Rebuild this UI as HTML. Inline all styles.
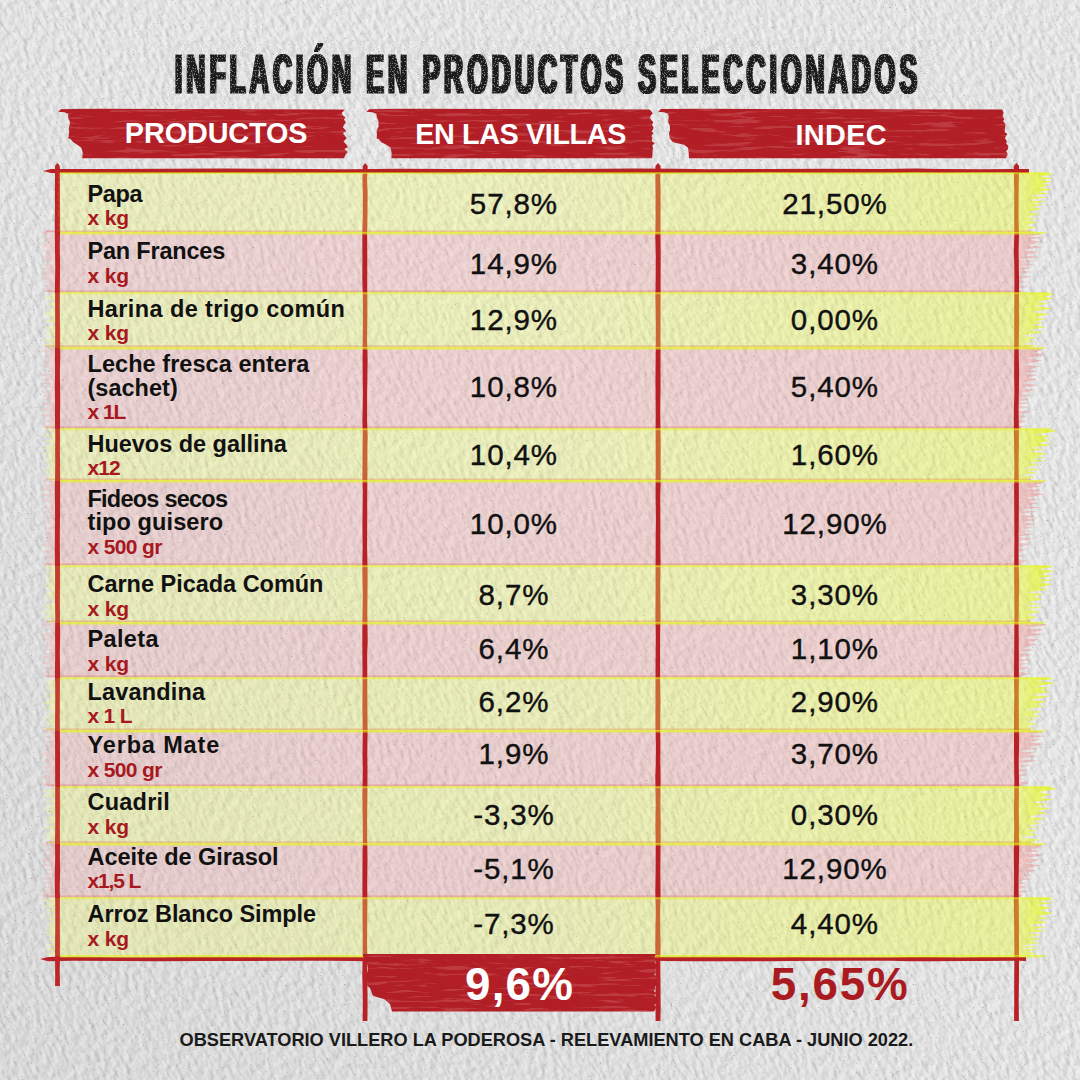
<!DOCTYPE html>
<html><head><meta charset="utf-8">
<style>
html,body{margin:0;padding:0;}
body{width:1080px;height:1080px;position:relative;overflow:hidden;background:#e4e4e2;font-family:"Liberation Sans", sans-serif;}
.t{position:absolute;white-space:nowrap;line-height:1;}
svg{position:absolute;left:0;top:0;}
</style></head><body>

<svg width="1080" height="1080" viewBox="0 0 1080 1080">
<defs>
<filter id="st" x="-50%" y="-50%" width="200%" height="200%">
 <feTurbulence type="fractalNoise" baseFrequency="0.22 0.11" numOctaves="3" seed="2" result="noise"/>
 <feDiffuseLighting in="noise" lighting-color="#ffffff" surfaceScale="1.15" diffuseConstant="1" result="lit">
   <feDistantLight azimuth="235" elevation="55"/>
 </feDiffuseLighting>
 <feColorMatrix type="matrix" values="0.935 0 0 0 0.01  0 0.935 0 0 0.01  0 0 0.935 0 0.01  0 0 0 1 0"/>
</filter>
<filter id="specks" x="0" y="0" width="100%" height="100%">
 <feTurbulence type="fractalNoise" baseFrequency="0.9" numOctaves="1" seed="9" result="n"/>
 <feColorMatrix type="matrix" values="0 0 0 0 0.25  0 0 0 0 0.25  0 0 0 0 0.25  0 0 0 -40 7.5"/>
</filter>
<filter id="specks2" x="0" y="0" width="100%" height="100%">
 <feTurbulence type="fractalNoise" baseFrequency="0.45" numOctaves="2" seed="17" result="n"/>
 <feColorMatrix type="matrix" values="0 0 0 0 0.35  0 0 0 0 0.35  0 0 0 0 0.35  0 0 0 -30 7.6"/>
</filter>
<clipPath id="pg"><rect width="1080" height="1080"/></clipPath>
</defs>
<g clip-path="url(#pg)"><rect x="-400" y="-400" width="1880" height="1880" fill="#fff" filter="url(#st)" transform="rotate(-35 540 540)"/></g>
<rect width="1080" height="1080" fill="#fff" filter="url(#specks)" opacity="0.7"/>
<rect width="1080" height="1080" fill="#fff" filter="url(#specks2)" opacity="0.5"/>
<defs><linearGradient id="vig" x1="0" y1="1" x2="1" y2="0"><stop offset="0" stop-color="#000" stop-opacity="0.05"/><stop offset="0.6" stop-color="#000" stop-opacity="0"/></linearGradient></defs>
<rect width="1080" height="1080" fill="url(#vig)"/>
</svg>
<svg width="1080" height="1080" viewBox="0 0 1080 1080"><defs>
<linearGradient id="gy" gradientUnits="userSpaceOnUse" x1="40" y1="0" x2="1060" y2="0">
<stop offset="0" stop-color="rgb(245,255,90)" stop-opacity="0.28"/>
<stop offset="0.5" stop-color="rgb(245,255,90)" stop-opacity="0.30"/>
<stop offset="0.955" stop-color="rgb(235,255,40)" stop-opacity="0.38"/>
<stop offset="1" stop-color="rgb(230,245,10)" stop-opacity="0.85"/>
</linearGradient>
<linearGradient id="gp" gradientUnits="userSpaceOnUse" x1="40" y1="0" x2="1060" y2="0">
<stop offset="0" stop-color="rgb(250,160,160)" stop-opacity="0.27"/>
<stop offset="0.5" stop-color="rgb(250,160,160)" stop-opacity="0.30"/>
<stop offset="0.95" stop-color="rgb(245,150,150)" stop-opacity="0.32"/>
<stop offset="1" stop-color="rgb(235,120,120)" stop-opacity="0.6"/>
</linearGradient>
</defs><path d="M43.0,233.0 L1038.0,233.0 L1042.4,234.2 L1027.2,236.4 L1042.4,237.5 L1029.8,239.7 L1040.2,241.7 L1027.4,245.4 L1043.2,247.0 L1022.1,250.0 L1038.0,252.0 L1024.3,255.6 L1039.8,257.0 L1017.5,259.7 L1034.2,260.9 L1023.6,263.1 L1034.9,264.4 L1018.8,266.8 L1030.8,268.1 L1019.3,270.6 L1032.9,272.0 L1012.6,274.7 L1031.2,276.5 L1014.2,279.8 L1026.7,281.6 L1009.7,284.8 L1030.0,286.7 L1009.0,290.2 L1025.3,291.6 L1017.4,293.0 L49.0,293.0 L42.8,290.2 L47.5,287.5 L42.4,285.5 L49.7,283.6 L43.0,282.0 L48.2,280.4 L41.5,278.7 L47.2,277.0 L40.5,273.8 L48.2,270.5 L41.6,268.5 L49.9,266.5 L39.6,264.8 L54.9,263.0 L41.1,260.6 L47.7,258.1 L41.6,256.4 L49.1,254.7 L42.4,251.6 L47.2,248.4 L40.9,245.0 L48.2,241.6 L42.9,239.0 L51.2,236.4 L39.5,233.0 L52.6,229.5 L47.0,233.0Z" fill="url(#gp)"/><rect x="46" y="230.4" width="985" height="2" fill="rgba(220,100,95,0.42)"/><rect x="46" y="290.4" width="975" height="1.5" fill="rgba(220,100,95,0.35)"/><path d="M43.0,348.0 L1038.0,348.0 L1042.8,349.6 L1034.7,352.6 L1044.8,354.7 L1028.1,358.6 L1042.0,360.6 L1023.2,364.4 L1039.2,366.3 L1028.1,369.8 L1038.1,371.2 L1023.8,373.7 L1038.2,375.0 L1027.4,377.5 L1036.8,379.5 L1022.7,383.2 L1038.7,384.9 L1021.9,388.0 L1035.1,390.0 L1019.4,393.7 L1030.8,395.3 L1019.2,398.3 L1029.6,399.5 L1014.7,401.8 L1031.5,403.1 L1014.6,405.4 L1029.8,407.0 L1015.5,410.0 L1031.4,411.7 L1018.5,414.7 L1027.0,416.3 L1015.6,419.4 L1027.4,421.2 L1011.4,424.7 L1028.5,426.5 L1015.3,429.0 L49.0,429.0 L41.0,426.3 L51.1,423.5 L41.2,420.7 L51.3,417.8 L39.2,415.3 L52.6,412.9 L39.2,409.6 L49.1,406.4 L39.2,403.7 L53.7,401.1 L42.5,399.3 L50.5,397.6 L42.0,395.9 L47.6,394.3 L39.9,391.4 L54.2,388.6 L40.1,386.8 L52.3,385.0 L39.5,383.2 L54.7,381.4 L39.2,379.5 L50.2,377.5 L39.0,375.1 L53.7,372.6 L41.3,370.8 L51.1,368.9 L42.2,366.8 L49.5,364.6 L42.9,361.6 L51.4,358.7 L42.9,356.3 L49.7,353.9 L41.0,351.2 L47.5,348.4 L47.0,348.0Z" fill="url(#gp)"/><rect x="46" y="345.4" width="985" height="2" fill="rgba(220,100,95,0.42)"/><rect x="46" y="426.4" width="975" height="1.5" fill="rgba(220,100,95,0.35)"/><path d="M43.0,481.0 L1038.0,481.0 L1044.1,482.5 L1034.5,485.2 L1041.4,486.4 L1026.8,488.6 L1041.2,489.9 L1032.5,492.4 L1044.5,494.3 L1025.3,497.9 L1039.5,499.2 L1028.2,501.7 L1038.1,503.3 L1025.6,506.1 L1041.9,507.4 L1019.5,509.9 L1036.7,511.5 L1018.4,514.5 L1036.2,515.9 L1027.2,518.5 L1036.0,519.9 L1021.2,522.6 L1035.2,523.9 L1025.3,526.2 L1031.9,527.6 L1020.5,530.0 L1030.6,531.1 L1020.7,533.1 L1033.2,534.4 L1017.6,536.8 L1032.8,538.7 L1014.5,542.1 L1030.0,544.1 L1017.0,547.7 L1027.2,549.8 L1011.7,553.7 L1025.2,555.4 L1009.4,558.6 L1027.5,560.6 L1013.6,566.0 L49.0,566.0 L42.4,562.9 L51.2,559.8 L39.7,557.2 L53.4,554.7 L40.7,551.6 L54.1,548.4 L40.2,545.6 L48.8,542.7 L42.5,541.1 L49.9,539.6 L39.7,537.9 L51.5,536.2 L40.5,533.4 L52.4,530.6 L43.0,528.2 L53.4,525.7 L41.0,522.7 L51.3,519.7 L42.7,516.9 L52.9,514.1 L42.7,512.0 L49.1,510.0 L42.2,507.1 L52.9,504.1 L41.0,500.7 L50.1,497.2 L40.3,494.8 L53.1,492.3 L40.4,489.6 L47.6,486.8 L42.0,485.0 L52.9,483.3 L40.7,481.1 L47.1,479.0 L47.0,481.0Z" fill="url(#gp)"/><rect x="46" y="478.4" width="985" height="2" fill="rgba(220,100,95,0.42)"/><rect x="46" y="563.4" width="975" height="1.5" fill="rgba(220,100,95,0.35)"/><path d="M43.0,623.0 L1038.0,623.0 L1047.5,624.7 L1024.8,627.9 L1044.5,629.5 L1032.0,632.5 L1041.2,634.4 L1023.1,637.7 L1038.4,639.5 L1028.4,642.7 L1035.6,644.7 L1022.0,648.5 L1034.5,649.9 L1017.9,652.5 L1032.8,654.6 L1016.6,658.4 L1032.5,659.8 L1017.8,662.3 L1028.7,663.5 L1018.4,665.8 L1029.4,667.8 L1016.2,671.5 L1030.3,673.5 L1015.3,678.0 L49.0,678.0 L42.2,676.2 L47.7,674.4 L42.6,672.3 L48.9,670.1 L40.7,668.1 L54.1,666.0 L41.3,663.0 L50.3,660.0 L41.5,657.5 L49.7,654.9 L41.9,653.3 L54.7,651.7 L41.0,649.9 L52.0,648.2 L42.1,645.0 L49.2,641.7 L41.4,639.7 L50.6,637.7 L39.6,634.3 L54.0,630.9 L42.9,629.4 L52.7,627.8 L41.1,624.6 L51.7,621.3 L47.0,623.0Z" fill="url(#gp)"/><rect x="46" y="620.4" width="985" height="2" fill="rgba(220,100,95,0.42)"/><rect x="46" y="675.4" width="975" height="1.5" fill="rgba(220,100,95,0.35)"/><path d="M43.0,731.0 L1038.0,731.0 L1043.3,732.3 L1027.1,734.7 L1046.4,736.1 L1028.3,738.6 L1040.6,739.8 L1027.9,742.1 L1043.7,743.9 L1028.8,747.1 L1037.5,748.6 L1019.0,751.3 L1035.1,752.5 L1026.9,754.7 L1038.9,756.2 L1017.2,758.9 L1038.0,760.7 L1014.9,764.1 L1031.3,765.5 L1013.4,768.1 L1028.9,769.9 L1014.2,773.3 L1029.1,774.8 L1016.1,777.5 L1025.4,778.7 L1015.3,781.0 L1029.9,782.4 L1017.3,787.0 L49.0,787.0 L42.2,783.6 L49.9,780.1 L39.7,777.0 L50.5,773.9 L41.1,772.3 L50.0,770.7 L42.2,767.3 L49.9,764.0 L42.9,760.7 L50.3,757.4 L39.9,754.3 L47.3,751.1 L42.7,749.6 L54.4,748.0 L40.0,746.0 L54.2,744.0 L41.9,741.8 L54.7,739.6 L42.0,736.9 L52.7,734.2 L41.9,732.0 L47.0,729.9 L47.0,731.0Z" fill="url(#gp)"/><rect x="46" y="728.4" width="985" height="2" fill="rgba(220,100,95,0.42)"/><rect x="46" y="784.4" width="975" height="1.5" fill="rgba(220,100,95,0.35)"/><path d="M43.0,844.0 L1038.0,844.0 L1042.2,846.0 L1030.9,849.7 L1041.0,850.9 L1022.9,853.1 L1044.2,854.8 L1027.1,857.9 L1039.6,859.8 L1026.2,863.4 L1040.5,865.3 L1025.8,868.8 L1036.5,870.5 L1022.9,873.6 L1031.9,875.0 L1021.5,877.7 L1033.1,879.0 L1015.6,881.4 L1028.2,882.7 L1017.5,885.1 L1027.9,886.8 L1015.8,890.1 L1029.7,891.4 L1012.1,893.7 L1024.2,894.8 L1015.6,898.0 L49.0,898.0 L40.4,895.4 L47.7,892.8 L40.2,891.0 L50.3,889.1 L41.8,887.1 L54.6,885.0 L40.7,882.9 L49.9,880.8 L39.5,878.4 L55.0,876.1 L42.2,873.9 L52.8,871.6 L43.0,869.7 L54.2,867.8 L39.7,865.5 L50.2,863.1 L41.2,859.9 L48.3,856.6 L40.8,855.1 L52.1,853.5 L42.6,850.2 L52.0,846.9 L41.0,844.7 L48.2,842.4 L47.0,844.0Z" fill="url(#gp)"/><rect x="46" y="841.4" width="985" height="2" fill="rgba(220,100,95,0.42)"/><rect x="46" y="895.4" width="975" height="1.5" fill="rgba(220,100,95,0.35)"/></svg>
<svg width="1080" height="1080" viewBox="0 0 1080 1080">
<path d="M43.0,171.0 L51.0,169.1 L110.3,168.9 L166.9,168.7 L224.1,168.6 L274.4,168.7 L305.4,169.1 L345.5,169.2 L376.0,168.9 L397.5,168.7 L454.9,169.0 L481.7,169.1 L522.9,169.0 L577.8,168.9 L633.1,168.6 L678.3,168.8 L708.9,169.2 L743.3,169.1 L770.4,169.1 L823.2,168.7 L882.5,169.0 L915.0,168.6 L941.0,169.0 L981.5,169.2 L1010.6,169.0 L1029.0,168.9 L1029.0,173.1 L1010.6,172.8 L981.5,172.8 L941.0,173.1 L915.0,172.8 L882.5,173.2 L823.2,173.2 L770.4,172.8 L743.3,173.1 L708.9,173.2 L678.3,173.3 L633.1,173.4 L577.8,173.2 L522.9,173.0 L481.7,172.8 L454.9,173.4 L397.5,172.9 L376.0,173.0 L345.5,172.9 L305.4,172.9 L274.4,173.4 L224.1,173.0 L166.9,173.3 L110.3,173.4 L51.0,172.9Z" fill="#b82227"/>
<path d="M57.5,163.0 L55.0,166.0 L54.9,184.4 L54.9,207.0 L54.8,227.6 L54.9,244.0 L55.4,267.5 L54.9,286.7 L55.1,310.3 L55.1,333.9 L54.9,359.1 L55.1,371.9 L54.8,388.2 L55.1,400.4 L54.9,415.0 L55.2,436.1 L55.0,451.2 L55.4,464.1 L54.8,489.0 L55.1,514.4 L54.9,534.6 L54.8,550.7 L55.2,576.2 L54.9,601.0 L55.3,620.9 L55.2,637.7 L55.4,653.6 L54.9,670.3 L55.3,699.3 L55.0,727.1 L55.2,755.4 L55.4,779.4 L55.2,806.5 L55.3,826.4 L54.9,843.9 L55.4,857.3 L54.8,869.8 L54.8,888.0 L55.2,900.8 L55.3,925.3 L55.0,948.0 L55.4,974.7 L55.1,986.0 L59.9,986.0 L59.6,974.7 L60.1,948.0 L59.6,925.3 L60.0,900.8 L59.6,888.0 L60.2,869.8 L59.7,857.3 L60.0,843.9 L59.9,826.4 L60.2,806.5 L59.9,779.4 L60.0,755.4 L59.7,727.1 L59.8,699.3 L60.1,670.3 L59.6,653.6 L60.2,637.7 L59.9,620.9 L59.9,601.0 L60.1,576.2 L59.8,550.7 L59.6,534.6 L60.1,514.4 L60.1,489.0 L60.1,464.1 L59.8,451.2 L60.1,436.1 L60.0,415.0 L60.2,400.4 L60.1,388.2 L59.8,371.9 L60.2,359.1 L60.2,333.9 L59.8,310.3 L59.6,286.7 L60.1,267.5 L59.6,244.0 L60.2,227.6 L60.0,207.0 L60.0,184.4 L59.6,166.0Z" fill="#b82227"/>
<path d="M365.0,163.0 L362.9,166.0 L362.4,179.9 L362.8,192.5 L362.8,216.0 L362.3,233.1 L362.4,258.8 L362.3,278.4 L362.8,295.5 L362.9,313.3 L362.7,340.6 L362.6,360.0 L362.7,378.3 L362.9,394.2 L362.4,420.9 L362.8,436.5 L362.6,448.6 L362.4,475.0 L362.8,493.2 L362.4,522.2 L362.6,546.8 L362.3,570.3 L362.8,594.8 L362.5,613.2 L362.3,641.2 L362.4,653.7 L362.6,681.9 L362.4,709.8 L362.8,731.4 L362.5,755.0 L362.8,769.8 L362.4,795.2 L362.7,821.1 L362.9,841.4 L362.5,856.9 L362.4,884.0 L362.5,900.5 L362.5,915.4 L362.8,945.0 L362.3,974.3 L362.8,1004.0 L362.6,1021.0 L367.4,1021.0 L367.6,1004.0 L367.3,974.3 L367.1,945.0 L367.2,915.4 L367.4,900.5 L367.2,884.0 L367.5,856.9 L367.2,841.4 L367.1,821.1 L367.4,795.2 L367.5,769.8 L367.3,755.0 L367.6,731.4 L367.4,709.8 L367.3,681.9 L367.2,653.7 L367.7,641.2 L367.3,613.2 L367.5,594.8 L367.6,570.3 L367.1,546.8 L367.2,522.2 L367.2,493.2 L367.4,475.0 L367.4,448.6 L367.7,436.5 L367.1,420.9 L367.1,394.2 L367.4,378.3 L367.6,360.0 L367.1,340.6 L367.4,313.3 L367.3,295.5 L367.2,278.4 L367.3,258.8 L367.1,233.1 L367.5,216.0 L367.6,192.5 L367.1,179.9 L367.7,166.0Z" fill="#b82227"/>
<path d="M658.0,163.0 L655.4,166.0 L655.4,179.9 L655.5,192.5 L655.6,217.0 L655.3,237.4 L655.8,256.6 L655.7,276.4 L655.4,296.0 L655.8,323.8 L655.7,351.1 L655.5,371.3 L655.5,385.1 L655.7,409.9 L655.6,429.5 L655.7,448.9 L655.7,464.2 L655.6,483.2 L655.6,495.9 L655.9,522.0 L655.7,535.8 L655.6,560.7 L655.6,587.6 L655.4,616.7 L655.8,635.7 L655.5,665.5 L655.5,682.4 L655.5,701.9 L655.4,720.3 L655.9,745.6 L655.8,761.6 L655.3,777.4 L655.7,803.9 L655.4,826.1 L655.7,844.4 L655.6,871.1 L655.3,893.0 L655.8,911.4 L655.4,930.1 L655.3,945.5 L655.4,962.5 L655.5,983.2 L655.5,1007.0 L655.6,1021.0 L660.4,1021.0 L660.7,1007.0 L660.5,983.2 L660.3,962.5 L660.6,945.5 L660.3,930.1 L660.2,911.4 L660.6,893.0 L660.3,871.1 L660.6,844.4 L660.7,826.1 L660.4,803.9 L660.6,777.4 L660.3,761.6 L660.4,745.6 L660.2,720.3 L660.5,701.9 L660.1,682.4 L660.1,665.5 L660.1,635.7 L660.5,616.7 L660.3,587.6 L660.5,560.7 L660.4,535.8 L660.4,522.0 L660.2,495.9 L660.7,483.2 L660.6,464.2 L660.7,448.9 L660.5,429.5 L660.2,409.9 L660.6,385.1 L660.5,371.3 L660.5,351.1 L660.5,323.8 L660.6,296.0 L660.6,276.4 L660.7,256.6 L660.5,237.4 L660.5,217.0 L660.6,192.5 L660.3,179.9 L660.5,166.0Z" fill="#b82227"/>
<path d="M1016.5,163.0 L1013.8,166.0 L1014.3,194.3 L1014.2,221.3 L1014.4,233.5 L1013.8,250.0 L1014.3,266.2 L1014.4,280.9 L1014.4,296.0 L1014.2,322.0 L1014.3,348.2 L1014.1,372.7 L1014.4,392.6 L1013.9,409.3 L1013.8,430.2 L1014.1,444.8 L1014.4,466.5 L1014.1,493.6 L1014.3,517.6 L1014.4,537.2 L1014.2,560.6 L1014.2,583.6 L1014.4,601.5 L1014.4,622.3 L1014.2,647.2 L1014.0,674.7 L1014.3,696.2 L1014.0,716.0 L1014.0,742.9 L1014.1,762.2 L1014.4,783.3 L1014.0,809.5 L1014.2,826.9 L1013.8,853.0 L1014.1,881.0 L1013.8,898.4 L1014.2,927.0 L1014.4,953.2 L1014.2,976.3 L1014.2,999.0 L1014.1,1021.0 L1018.9,1021.0 L1018.7,999.0 L1019.0,976.3 L1019.0,953.2 L1019.0,927.0 L1018.7,898.4 L1018.6,881.0 L1019.1,853.0 L1019.0,826.9 L1018.8,809.5 L1019.0,783.3 L1018.7,762.2 L1019.1,742.9 L1018.9,716.0 L1018.7,696.2 L1018.9,674.7 L1018.8,647.2 L1018.6,622.3 L1018.9,601.5 L1019.2,583.6 L1018.6,560.6 L1018.6,537.2 L1018.8,517.6 L1018.9,493.6 L1018.6,466.5 L1018.9,444.8 L1018.9,430.2 L1018.6,409.3 L1018.9,392.6 L1019.1,372.7 L1018.7,348.2 L1019.2,322.0 L1019.0,296.0 L1019.1,280.9 L1018.8,266.2 L1018.6,250.0 L1019.0,233.5 L1018.6,221.3 L1018.6,194.3 L1019.1,166.0Z" fill="#b82227"/>
<path d="M40.0,959.0 L48.0,957.0 L72.1,956.8 L123.0,957.3 L157.8,957.2 L200.3,956.8 L237.1,956.9 L282.8,957.3 L325.5,956.7 L377.9,957.1 L415.8,956.7 L459.5,957.3 L498.5,956.9 L544.3,956.8 L564.9,956.7 L589.8,957.3 L644.5,956.7 L693.3,956.8 L720.8,956.7 L769.3,957.2 L792.7,957.1 L831.1,957.3 L889.7,957.2 L910.3,957.1 L933.5,956.9 L960.1,957.3 L982.5,956.9 L1020.1,957.1 L1026.0,957.0 L1026.0,961.0 L1020.1,960.8 L982.5,961.1 L960.1,961.0 L933.5,961.2 L910.3,961.2 L889.7,960.7 L831.1,960.8 L792.7,961.1 L769.3,961.2 L720.8,961.2 L693.3,961.2 L644.5,960.7 L589.8,960.7 L564.9,961.1 L544.3,960.8 L498.5,960.7 L459.5,961.3 L415.8,960.9 L377.9,961.3 L325.5,960.7 L282.8,960.7 L237.1,961.0 L200.3,960.9 L157.8,961.2 L123.0,961.1 L72.1,960.7 L48.0,961.2Z" fill="#b82227"/>
</svg>
<svg width="1080" height="1080" viewBox="0 0 1080 1080"><path d="M58.0,173.0 L1048.0,173.0 L1052.9,174.4 L1038.2,177.0 L1053.9,178.1 L1039.9,180.2 L1052.6,181.3 L1042.2,183.4 L1049.0,184.9 L1040.2,187.7 L1052.1,189.2 L1038.4,191.9 L1049.5,193.2 L1029.0,195.6 L1046.8,197.3 L1027.1,200.3 L1048.0,201.4 L1032.9,203.5 L1042.5,204.7 L1031.6,206.9 L1041.8,208.8 L1027.1,212.4 L1041.1,214.1 L1025.8,217.3 L1037.6,218.4 L1028.1,220.5 L1038.7,222.2 L1025.4,225.5 L1037.2,227.2 L1023.9,230.3 L1037.1,232.1 L1026.5,233.0 L64.0,233.0 L57.5,230.4 L59.8,227.7 L57.7,224.7 L60.0,221.8 L57.6,220.0 L59.5,218.3 L57.5,216.5 L58.1,214.7 L57.2,211.9 L59.1,209.0 L57.7,205.8 L59.4,202.5 L57.4,199.8 L58.9,197.2 L57.1,194.0 L58.9,190.8 L57.9,188.0 L59.4,185.1 L57.0,182.3 L59.6,179.5 L57.6,177.5 L59.3,175.4 L57.5,173.9 L58.3,172.3 L62.0,173.0Z" fill="url(#gy)"/><path d="M60,232 L1048,232 L1040,234.5 L60,234.5Z" fill="rgba(230,248,20,0.6)"/><path d="M60,172 L1052,172 L1045,174.2 L60,174.2Z" fill="rgba(230,248,20,0.5)"/><path d="M46.0,293.0 L1048.0,293.0 L1054.2,294.3 L1043.0,296.8 L1053.8,298.6 L1034.9,302.1 L1050.0,303.5 L1033.1,306.1 L1052.4,308.2 L1031.0,312.0 L1049.5,314.0 L1034.8,317.5 L1045.2,319.1 L1035.1,322.1 L1043.1,323.1 L1031.7,325.1 L1046.1,326.9 L1028.0,330.2 L1044.4,332.2 L1020.8,336.0 L1037.7,337.5 L1026.6,340.1 L1036.1,341.4 L1021.3,343.7 L1038.6,345.7 L1025.1,348.0 L52.0,348.0 L42.0,345.2 L50.7,342.4 L41.5,339.6 L56.3,336.7 L43.6,333.7 L51.4,330.7 L44.3,327.7 L56.4,324.6 L44.0,321.1 L53.2,317.7 L42.4,314.3 L51.4,310.9 L45.2,309.2 L57.2,307.4 L45.3,304.3 L56.6,301.2 L42.7,297.7 L52.8,294.3 L50.0,293.0Z" fill="url(#gy)"/><path d="M60,347 L1048,347 L1040,349.5 L60,349.5Z" fill="rgba(230,248,20,0.6)"/><path d="M60,292 L1052,292 L1045,294.2 L60,294.2Z" fill="rgba(230,248,20,0.5)"/><path d="M46.0,429.0 L1048.0,429.0 L1056.7,431.1 L1034.0,435.0 L1051.3,436.1 L1042.0,438.3 L1050.1,440.1 L1039.1,443.6 L1051.9,445.1 L1030.6,447.9 L1045.6,449.2 L1028.1,451.6 L1047.5,453.3 L1034.6,456.4 L1045.6,457.5 L1030.0,459.5 L1045.9,460.7 L1026.7,462.8 L1039.5,464.6 L1022.4,468.2 L1042.1,469.3 L1025.2,471.4 L1039.0,472.8 L1018.9,475.4 L1034.9,476.7 L1024.8,481.0 L52.0,481.0 L45.5,479.0 L51.3,477.0 L45.0,475.4 L52.5,473.8 L42.2,471.7 L52.3,469.6 L45.1,467.1 L52.8,464.6 L44.7,463.1 L50.1,461.6 L43.2,458.6 L51.5,455.6 L41.3,453.2 L50.9,450.7 L43.8,447.6 L54.0,444.4 L44.0,441.3 L54.1,438.1 L41.1,435.2 L52.7,432.4 L42.5,429.2 L55.1,426.0 L50.0,429.0Z" fill="url(#gy)"/><path d="M60,480 L1048,480 L1040,482.5 L60,482.5Z" fill="rgba(230,248,20,0.6)"/><path d="M60,428 L1052,428 L1045,430.2 L60,430.2Z" fill="rgba(230,248,20,0.5)"/><path d="M46.0,566.0 L1048.0,566.0 L1053.6,567.1 L1038.2,569.2 L1054.9,571.0 L1040.2,574.3 L1051.9,575.9 L1036.8,578.8 L1052.9,580.0 L1038.3,582.2 L1051.9,584.2 L1038.1,588.1 L1049.2,589.6 L1027.0,592.5 L1044.3,594.0 L1033.1,596.8 L1042.4,598.9 L1027.3,602.7 L1042.3,603.9 L1022.4,606.1 L1042.9,607.3 L1025.7,609.5 L1041.0,611.5 L1026.4,615.1 L1037.7,617.1 L1026.5,620.8 L1035.7,621.9 L1025.3,623.0 L52.0,623.0 L45.3,620.9 L52.8,618.8 L41.8,616.7 L50.0,614.5 L41.8,611.5 L51.0,608.5 L42.4,605.2 L57.2,601.8 L44.1,599.7 L53.1,597.7 L43.1,594.2 L52.9,590.7 L44.6,588.3 L50.4,586.0 L41.8,584.2 L52.3,582.5 L44.8,579.2 L52.1,575.8 L45.1,573.3 L53.0,570.8 L41.6,567.3 L56.5,563.9 L50.0,566.0Z" fill="url(#gy)"/><path d="M60,622 L1048,622 L1040,624.5 L60,624.5Z" fill="rgba(230,248,20,0.6)"/><path d="M60,565 L1052,565 L1045,567.2 L60,567.2Z" fill="rgba(230,248,20,0.5)"/><path d="M46.0,678.0 L1048.0,678.0 L1054.3,679.1 L1035.6,681.0 L1056.0,682.9 L1033.1,686.5 L1049.5,687.8 L1039.8,690.2 L1051.5,691.8 L1030.2,694.8 L1049.5,696.6 L1030.1,700.0 L1047.0,701.5 L1035.7,704.3 L1043.5,706.2 L1024.8,709.7 L1041.9,711.4 L1030.9,714.6 L1042.0,715.9 L1023.8,718.4 L1037.2,719.5 L1024.3,721.7 L1037.8,723.4 L1025.5,726.5 L1033.8,728.1 L1026.2,731.0 L52.0,731.0 L41.2,728.6 L55.2,726.2 L43.6,722.9 L51.9,719.6 L41.2,717.6 L55.6,715.6 L45.9,713.5 L54.0,711.4 L43.9,708.6 L52.1,705.7 L41.4,702.9 L51.8,700.0 L44.3,698.5 L53.4,696.9 L45.0,694.0 L56.4,691.2 L43.5,688.2 L51.6,685.2 L44.4,681.8 L56.6,678.3 L50.0,678.0Z" fill="url(#gy)"/><path d="M60,730 L1048,730 L1040,732.5 L60,732.5Z" fill="rgba(230,248,20,0.6)"/><path d="M60,677 L1052,677 L1045,679.2 L60,679.2Z" fill="rgba(230,248,20,0.5)"/><path d="M46.0,787.0 L1048.0,787.0 L1057.5,788.8 L1037.8,792.3 L1050.3,794.3 L1039.8,798.1 L1053.8,799.6 L1031.0,802.5 L1048.1,804.0 L1034.8,806.7 L1050.7,808.2 L1035.7,811.2 L1048.0,813.1 L1027.4,816.6 L1045.3,818.4 L1030.5,821.9 L1041.9,823.3 L1024.5,825.8 L1039.6,827.0 L1023.7,829.1 L1037.6,830.4 L1029.6,832.8 L1037.9,834.5 L1018.5,837.5 L1040.2,839.5 L1026.4,844.0 L52.0,844.0 L45.5,842.3 L54.0,840.7 L43.8,837.7 L51.9,834.8 L42.9,832.5 L55.4,830.2 L41.8,827.2 L55.3,824.2 L41.8,822.4 L52.4,820.7 L44.1,818.0 L55.9,815.4 L44.8,813.5 L52.0,811.6 L41.6,809.8 L54.6,808.0 L44.0,805.9 L57.9,803.7 L44.8,801.2 L56.5,798.7 L41.0,795.9 L50.8,793.1 L41.9,790.6 L56.7,788.2 L50.0,787.0Z" fill="url(#gy)"/><path d="M60,843 L1048,843 L1040,845.5 L60,845.5Z" fill="rgba(230,248,20,0.6)"/><path d="M60,786 L1052,786 L1045,788.2 L60,788.2Z" fill="rgba(230,248,20,0.5)"/><path d="M46.0,898.0 L1048.0,898.0 L1055.1,899.3 L1035.4,901.8 L1053.6,903.0 L1035.5,905.2 L1050.7,907.2 L1040.2,911.1 L1053.3,913.1 L1034.7,916.9 L1051.0,918.0 L1034.5,920.1 L1048.1,922.1 L1028.2,925.8 L1047.1,927.0 L1033.0,929.3 L1046.3,930.7 L1025.5,933.5 L1041.1,934.7 L1028.5,937.0 L1040.8,938.6 L1029.7,941.6 L1041.3,942.9 L1020.7,945.3 L1039.1,946.4 L1021.0,948.4 L1039.6,949.5 L1026.4,951.6 L1036.8,953.2 L1024.2,956.0 L52.0,956.0 L43.9,953.9 L54.7,951.8 L42.7,949.4 L53.6,947.1 L45.9,944.7 L55.0,942.3 L44.8,939.8 L56.1,937.4 L43.7,934.3 L51.4,931.2 L45.5,928.8 L51.0,926.3 L45.5,924.0 L53.5,921.6 L45.8,919.1 L55.1,916.6 L42.3,914.9 L56.2,913.3 L45.7,910.7 L54.0,908.2 L41.2,906.0 L51.1,903.7 L41.0,900.5 L55.9,897.3 L50.0,898.0Z" fill="url(#gy)"/><path d="M60,955 L1048,955 L1040,957.5 L60,957.5Z" fill="rgba(230,248,20,0.6)"/><path d="M60,897 L1052,897 L1045,899.2 L60,899.2Z" fill="rgba(230,248,20,0.5)"/><defs><filter id="rowstreak" x="0" y="0" width="100%" height="100%">
<feTurbulence type="fractalNoise" baseFrequency="0.006 0.22" numOctaves="3" seed="31"/>
<feColorMatrix type="matrix" values="0 0 0 0 1  0 0 0 0 1  0 0 0 0 1  0 0 0 -7 3.6"/>
</filter></defs>

<path d="M57.5,163.0 L55.2,166.0 L55.2,189.3 L55.6,215.5 L55.2,237.7 L55.4,267.2 L55.4,285.2 L55.4,312.2 L55.6,331.9 L55.4,356.2 L55.1,382.7 L55.2,399.5 L55.6,426.2 L55.5,453.2 L55.1,475.5 L55.4,502.0 L55.0,520.2 L55.1,546.6 L55.1,575.3 L55.3,599.5 L55.5,616.1 L55.0,636.4 L55.1,662.3 L55.6,690.4 L55.4,711.0 L55.1,726.5 L55.3,745.0 L55.1,766.3 L55.2,796.3 L55.5,819.7 L55.2,842.4 L55.0,854.8 L55.3,882.4 L55.5,899.1 L55.5,928.1 L55.1,957.5 L55.1,973.1 L55.3,986.0 L55.3,986.0 L59.7,986.0 L60.0,986.0 L59.4,973.1 L59.4,957.5 L59.9,928.1 L59.6,899.1 L59.7,882.4 L60.0,854.8 L59.7,842.4 L59.5,819.7 L59.4,796.3 L59.4,766.3 L59.6,745.0 L59.8,726.5 L59.5,711.0 L59.7,690.4 L59.8,662.3 L59.9,636.4 L59.9,616.1 L59.5,599.5 L59.8,575.3 L59.9,546.6 L59.7,520.2 L60.0,502.0 L59.9,475.5 L60.0,453.2 L59.4,426.2 L59.8,399.5 L59.4,382.7 L60.0,356.2 L59.6,331.9 L59.6,312.2 L60.0,285.2 L59.9,267.2 L59.4,237.7 L59.9,215.5 L59.6,189.3 L59.8,166.0Z" fill="#c02a28" opacity="0.6"/></svg>
<svg width="1080" height="1080" viewBox="0 0 1080 1080">
<defs>
<filter id="streak" x="0" y="0" width="100%" height="100%">
 <feTurbulence type="fractalNoise" baseFrequency="0.025 0.3" numOctaves="4" seed="11"/>
 <feColorMatrix type="matrix" values="0 0 0 0 1  0 0 0 0 0.88  0 0 0 0 0.88  0 0 0 -9 4.0"/>
</filter>
<linearGradient id="rmask" x1="0" y1="0" x2="1" y2="0"><stop offset="0" stop-color="#000"/><stop offset="1" stop-color="#fff"/></linearGradient>
<clipPath id="rc">
<path d="M58.3,111.8 L61.3,109.1 L98.3,108.8 L340.5,109.4 L344.9,109.8 L341.6,113.1 L343.1,115.8 L345.5,117.6 L344.0,119.6 L345.8,122.4 L343.7,125.2 L343.0,127.6 L346.5,131.0 L342.9,133.0 L344.3,135.0 L346.7,138.3 L343.5,141.5 L346.4,144.5 L347.7,147.3 L344.4,148.9 L347.8,151.9 L345.4,154.8 L344.0,158.3 L82.3,158.3 L82.8,152.8 L81.3,147.8 L77.3,144.8 L73.3,142.3 L70.3,138.8 L68.4,138.8 L68.7,134.8 L69.3,131.5 L68.7,128.0 L69.7,124.5 L69.8,121.5 L68.2,117.9 L68.3,113.8 L64.3,112.3Z"/>
<path d="M366.4,111.8 L369.4,109.1 L406.4,108.8 L648.5,109.4 L650.0,109.8 L652.8,113.2 L650.1,116.4 L650.1,118.8 L653.3,122.2 L652.0,125.0 L653.6,127.1 L653.0,129.6 L651.5,131.4 L653.6,133.0 L651.5,135.6 L652.2,138.8 L651.9,141.2 L654.8,143.2 L652.3,145.4 L653.0,147.9 L652.5,151.2 L652.5,154.6 L652.0,158.3 L391.4,158.3 L391.7,152.8 L390.4,147.8 L386.4,144.8 L381.4,142.3 L378.4,138.8 L376.7,138.8 L376.9,134.4 L376.7,130.6 L378.6,126.5 L378.4,120.5 L376.9,117.2 L376.4,113.8 L372.4,112.3Z"/>
<path d="M658.0,111.8 L661.0,109.1 L698.0,108.8 L1001.5,109.4 L1002.3,109.8 L1003.5,112.8 L1002.7,116.2 L1004.3,119.3 L1003.1,121.1 L1005.5,124.3 L1005.3,126.1 L1004.8,129.5 L1004.7,132.1 L1007.4,134.0 L1005.3,136.9 L1005.1,138.5 L1006.9,141.3 L1006.0,143.3 L1008.2,146.0 L1008.0,149.2 L1006.1,151.1 L1007.7,154.0 L1006.6,157.0 L1006.0,158.3 L689.0,158.3 L688.7,152.8 L688.0,147.8 L684.0,144.8 L673.0,142.3 L670.0,138.8 L669.8,138.8 L669.0,133.2 L670.0,130.2 L669.9,125.7 L668.2,121.9 L668.7,116.4 L668.0,113.8 L664.0,112.3Z"/>
<path d="M363.0,954.0 L655.0,954.0 L655.7,955.0 L654.0,957.7 L656.0,960.2 L654.5,962.8 L657.7,965.7 L655.4,968.9 L655.7,971.8 L654.3,974.8 L658.3,978.1 L656.3,980.6 L656.4,983.1 L658.4,984.7 L654.8,986.6 L655.1,988.3 L654.1,991.5 L657.1,993.2 L654.1,995.1 L656.6,997.8 L657.2,1000.3 L657.9,1002.0 L654.2,1004.9 L656.2,1006.7 L655.3,1009.2 L654.0,1011.5 L392.0,1011.5 L390.0,1004.0 L384.0,999.0 L373.0,996.0 L370.0,988.0 L366.7,985.0 L367.3,981.6 L365.9,976.0 L367.7,971.3 L368.0,967.8 L366.7,962.0 L363.0,956.0Z"/>
</clipPath>
</defs>
<g clip-path="url(#rc)">
<rect x="0" y="100" width="1080" height="920" fill="#b21e25"/>
<rect x="0" y="100" width="1080" height="920" fill="#fff" filter="url(#streak)" opacity="0.13"/>
</g>
</svg>
<svg width="0" height="0" style="position:absolute"><defs><filter id="thick" x="-5%" y="-20%" width="110%" height="140%"><feMorphology operator="dilate" radius="2.0 0.2"/></filter></defs></svg>
<div class="t" style="left:175px;top:46.74px;font-size:55px;font-weight:700;color:#1c1c1c;transform:scaleX(0.48);transform-origin:0 0;-webkit-text-stroke:1.2px #1c1c1c;letter-spacing:8.4px;word-spacing:0px;filter:url(#thick)">INFLACIÓN EN PRODUCTOS SELECCIONADOS</div>
<svg width="1080" height="1080" viewBox="0 0 1080 1080">
<defs><filter id="dist" x="0" y="0" width="100%" height="100%">
<feTurbulence type="fractalNoise" baseFrequency="0.7" numOctaves="2" seed="21"/>
<feColorMatrix type="matrix" values="0 0 0 0 0.6  0 0 0 0 0.6  0 0 0 0 0.6  0 0 0 -16 6.6"/>
</filter></defs>
<rect x="165" y="40" width="770" height="60" fill="#fff" filter="url(#dist)" opacity="0.55"/>
</svg>
<div class="t" style="left:-283.8px;width:1000px;text-align:center;top:119.12px;font-size:28.8px;font-weight:700;color:#fff;letter-spacing:-0.1px;text-indent:-0.1px;">PRODUCTOS</div>
<div class="t" style="left:20.8px;width:1000px;text-align:center;top:119.52px;font-size:28.8px;font-weight:700;color:#fff;letter-spacing:-0.4px;text-indent:-0.4px;">EN LAS VILLAS</div>
<div class="t" style="left:341.0px;width:1000px;text-align:center;top:120.82px;font-size:28.8px;font-weight:700;color:#fff;letter-spacing:0.4px;text-indent:0.4px;">INDEC</div>
<div class="t" style="left:87.5px;top:182.91px;font-size:23.5px;font-weight:700;color:#111;letter-spacing:-0.366px;">Papa</div>
<div class="t" style="left:87.5px;top:207.22px;font-size:21px;font-weight:700;color:#a8191f;letter-spacing:-0.133px;">x kg</div>
<div class="t" style="left:13.5px;width:1000px;text-align:center;top:189.03px;font-size:29.5px;font-weight:400;color:#111;letter-spacing:0.9px;text-indent:0.9px;-webkit-text-stroke:0.4px #111;">57,8%</div>
<div class="t" style="left:334.5px;width:1000px;text-align:center;top:189.03px;font-size:29.5px;font-weight:400;color:#111;letter-spacing:0.9px;text-indent:0.9px;-webkit-text-stroke:0.4px #111;">21,50%</div>
<div class="t" style="left:87.5px;top:239.81px;font-size:23.5px;font-weight:700;color:#111;letter-spacing:-0.2px;">Pan Frances</div>
<div class="t" style="left:87.5px;top:264.72px;font-size:21px;font-weight:700;color:#a8191f;letter-spacing:-0.133px;">x kg</div>
<div class="t" style="left:13.5px;width:1000px;text-align:center;top:249.03px;font-size:29.5px;font-weight:400;color:#111;letter-spacing:0.9px;text-indent:0.9px;-webkit-text-stroke:0.4px #111;">14,9%</div>
<div class="t" style="left:334.5px;width:1000px;text-align:center;top:249.03px;font-size:29.5px;font-weight:400;color:#111;letter-spacing:0.9px;text-indent:0.9px;-webkit-text-stroke:0.4px #111;">3,40%</div>
<div class="t" style="left:87.5px;top:297.61px;font-size:23.5px;font-weight:700;color:#111;letter-spacing:0.395px;">Harina de trigo común</div>
<div class="t" style="left:87.5px;top:322.22px;font-size:21px;font-weight:700;color:#a8191f;letter-spacing:-0.133px;">x kg</div>
<div class="t" style="left:13.5px;width:1000px;text-align:center;top:305.03px;font-size:29.5px;font-weight:400;color:#111;letter-spacing:0.9px;text-indent:0.9px;-webkit-text-stroke:0.4px #111;">12,9%</div>
<div class="t" style="left:334.5px;width:1000px;text-align:center;top:305.03px;font-size:29.5px;font-weight:400;color:#111;letter-spacing:0.9px;text-indent:0.9px;-webkit-text-stroke:0.4px #111;">0,00%</div>
<div class="t" style="left:87.5px;top:352.91px;font-size:23.5px;font-weight:700;color:#111;letter-spacing:0.056px;">Leche fresca entera</div>
<div class="t" style="left:87.5px;top:376.51px;font-size:23.5px;font-weight:700;color:#111;letter-spacing:0.014px;">(sachet)</div>
<div class="t" style="left:87.5px;top:401.22px;font-size:21px;font-weight:700;color:#a8191f;letter-spacing:-1.033px;">x 1L</div>
<div class="t" style="left:13.5px;width:1000px;text-align:center;top:372.03px;font-size:29.5px;font-weight:400;color:#111;letter-spacing:0.9px;text-indent:0.9px;-webkit-text-stroke:0.4px #111;">10,8%</div>
<div class="t" style="left:334.5px;width:1000px;text-align:center;top:372.03px;font-size:29.5px;font-weight:400;color:#111;letter-spacing:0.9px;text-indent:0.9px;-webkit-text-stroke:0.4px #111;">5,40%</div>
<div class="t" style="left:87.5px;top:432.91px;font-size:23.5px;font-weight:700;color:#111;letter-spacing:-0.026px;">Huevos de gallina</div>
<div class="t" style="left:87.5px;top:456.92px;font-size:21px;font-weight:700;color:#a8191f;letter-spacing:-0.95px;">x12</div>
<div class="t" style="left:13.5px;width:1000px;text-align:center;top:440.03px;font-size:29.5px;font-weight:400;color:#111;letter-spacing:0.9px;text-indent:0.9px;-webkit-text-stroke:0.4px #111;">10,4%</div>
<div class="t" style="left:334.5px;width:1000px;text-align:center;top:440.03px;font-size:29.5px;font-weight:400;color:#111;letter-spacing:0.9px;text-indent:0.9px;-webkit-text-stroke:0.4px #111;">1,60%</div>
<div class="t" style="left:87.5px;top:487.61px;font-size:23.5px;font-weight:700;color:#111;letter-spacing:-0.764px;">Fideos secos</div>
<div class="t" style="left:87.5px;top:511.11px;font-size:23.5px;font-weight:700;color:#111;letter-spacing:0.101px;">tipo guisero</div>
<div class="t" style="left:87.5px;top:536.22px;font-size:21px;font-weight:700;color:#a8191f;letter-spacing:-0.643px;">x 500 gr</div>
<div class="t" style="left:13.5px;width:1000px;text-align:center;top:509.03px;font-size:29.5px;font-weight:400;color:#111;letter-spacing:0.9px;text-indent:0.9px;-webkit-text-stroke:0.4px #111;">10,0%</div>
<div class="t" style="left:334.5px;width:1000px;text-align:center;top:509.03px;font-size:29.5px;font-weight:400;color:#111;letter-spacing:0.9px;text-indent:0.9px;-webkit-text-stroke:0.4px #111;">12,90%</div>
<div class="t" style="left:87.5px;top:572.91px;font-size:23.5px;font-weight:700;color:#111;letter-spacing:-0.023px;">Carne Picada Común</div>
<div class="t" style="left:87.5px;top:597.52px;font-size:21px;font-weight:700;color:#a8191f;letter-spacing:-0.133px;">x kg</div>
<div class="t" style="left:13.5px;width:1000px;text-align:center;top:580.43px;font-size:29.5px;font-weight:400;color:#111;letter-spacing:0.9px;text-indent:0.9px;-webkit-text-stroke:0.4px #111;">8,7%</div>
<div class="t" style="left:334.5px;width:1000px;text-align:center;top:580.43px;font-size:29.5px;font-weight:400;color:#111;letter-spacing:0.9px;text-indent:0.9px;-webkit-text-stroke:0.4px #111;">3,30%</div>
<div class="t" style="left:87.5px;top:627.91px;font-size:23.5px;font-weight:700;color:#111;letter-spacing:0.36px;">Paleta</div>
<div class="t" style="left:87.5px;top:653.02px;font-size:21px;font-weight:700;color:#a8191f;letter-spacing:-0.133px;">x kg</div>
<div class="t" style="left:13.5px;width:1000px;text-align:center;top:633.63px;font-size:29.5px;font-weight:400;color:#111;letter-spacing:0.9px;text-indent:0.9px;-webkit-text-stroke:0.4px #111;">6,4%</div>
<div class="t" style="left:334.5px;width:1000px;text-align:center;top:633.63px;font-size:29.5px;font-weight:400;color:#111;letter-spacing:0.9px;text-indent:0.9px;-webkit-text-stroke:0.4px #111;">1,10%</div>
<div class="t" style="left:87.5px;top:680.61px;font-size:23.5px;font-weight:700;color:#111;letter-spacing:0.175px;">Lavandina</div>
<div class="t" style="left:87.5px;top:705.02px;font-size:21px;font-weight:700;color:#a8191f;letter-spacing:-0.725px;">x 1 L</div>
<div class="t" style="left:13.5px;width:1000px;text-align:center;top:686.93px;font-size:29.5px;font-weight:400;color:#111;letter-spacing:0.9px;text-indent:0.9px;-webkit-text-stroke:0.4px #111;">6,2%</div>
<div class="t" style="left:334.5px;width:1000px;text-align:center;top:686.93px;font-size:29.5px;font-weight:400;color:#111;letter-spacing:0.9px;text-indent:0.9px;-webkit-text-stroke:0.4px #111;">2,90%</div>
<div class="t" style="left:87.5px;top:734.11px;font-size:23.5px;font-weight:700;color:#111;letter-spacing:0.856px;">Yerba Mate</div>
<div class="t" style="left:87.5px;top:759.22px;font-size:21px;font-weight:700;color:#a8191f;letter-spacing:-0.643px;">x 500 gr</div>
<div class="t" style="left:13.5px;width:1000px;text-align:center;top:738.73px;font-size:29.5px;font-weight:400;color:#111;letter-spacing:0.9px;text-indent:0.9px;-webkit-text-stroke:0.4px #111;">1,9%</div>
<div class="t" style="left:334.5px;width:1000px;text-align:center;top:738.73px;font-size:29.5px;font-weight:400;color:#111;letter-spacing:0.9px;text-indent:0.9px;-webkit-text-stroke:0.4px #111;">3,70%</div>
<div class="t" style="left:87.5px;top:791.11px;font-size:23.5px;font-weight:700;color:#111;letter-spacing:0.233px;">Cuadril</div>
<div class="t" style="left:87.5px;top:816.22px;font-size:21px;font-weight:700;color:#a8191f;letter-spacing:-0.133px;">x kg</div>
<div class="t" style="left:13.5px;width:1000px;text-align:center;top:800.33px;font-size:29.5px;font-weight:400;color:#111;letter-spacing:0.9px;text-indent:0.9px;-webkit-text-stroke:0.4px #111;">-3,3%</div>
<div class="t" style="left:334.5px;width:1000px;text-align:center;top:800.33px;font-size:29.5px;font-weight:400;color:#111;letter-spacing:0.9px;text-indent:0.9px;-webkit-text-stroke:0.4px #111;">0,30%</div>
<div class="t" style="left:87.5px;top:845.91px;font-size:23.5px;font-weight:700;color:#111;letter-spacing:-0.056px;">Aceite de Girasol</div>
<div class="t" style="left:87.5px;top:870.22px;font-size:21px;font-weight:700;color:#a8191f;letter-spacing:-1.14px;">x1,5 L</div>
<div class="t" style="left:13.5px;width:1000px;text-align:center;top:854.43px;font-size:29.5px;font-weight:400;color:#111;letter-spacing:0.9px;text-indent:0.9px;-webkit-text-stroke:0.4px #111;">-5,1%</div>
<div class="t" style="left:334.5px;width:1000px;text-align:center;top:854.43px;font-size:29.5px;font-weight:400;color:#111;letter-spacing:0.9px;text-indent:0.9px;-webkit-text-stroke:0.4px #111;">12,90%</div>
<div class="t" style="left:87.5px;top:903.41px;font-size:23.5px;font-weight:700;color:#111;letter-spacing:-0.067px;">Arroz Blanco Simple</div>
<div class="t" style="left:87.5px;top:927.82px;font-size:21px;font-weight:700;color:#a8191f;letter-spacing:-0.133px;">x kg</div>
<div class="t" style="left:13.5px;width:1000px;text-align:center;top:909.03px;font-size:29.5px;font-weight:400;color:#111;letter-spacing:0.9px;text-indent:0.9px;-webkit-text-stroke:0.4px #111;">-7,3%</div>
<div class="t" style="left:334.5px;width:1000px;text-align:center;top:909.03px;font-size:29.5px;font-weight:400;color:#111;letter-spacing:0.9px;text-indent:0.9px;-webkit-text-stroke:0.4px #111;">4,40%</div>
<div class="t" style="left:19.0px;width:1000px;text-align:center;top:962.13px;font-size:45.8px;font-weight:700;color:#fff;letter-spacing:1.2px;text-indent:1.2px;">9,6%</div>
<div class="t" style="left:339.3px;width:1000px;text-align:center;top:962.23px;font-size:45.8px;font-weight:700;color:#a91b20;letter-spacing:1.75px;text-indent:1.75px;">5,65%</div>
<div class="t" style="left:46.4px;width:1000px;text-align:center;top:1031.29px;font-size:18.2px;font-weight:700;color:#1a1a1a;letter-spacing:0px;">OBSERVATORIO VILLERO LA PODEROSA - RELEVAMIENTO EN CABA - JUNIO 2022.</div>
</body></html>
